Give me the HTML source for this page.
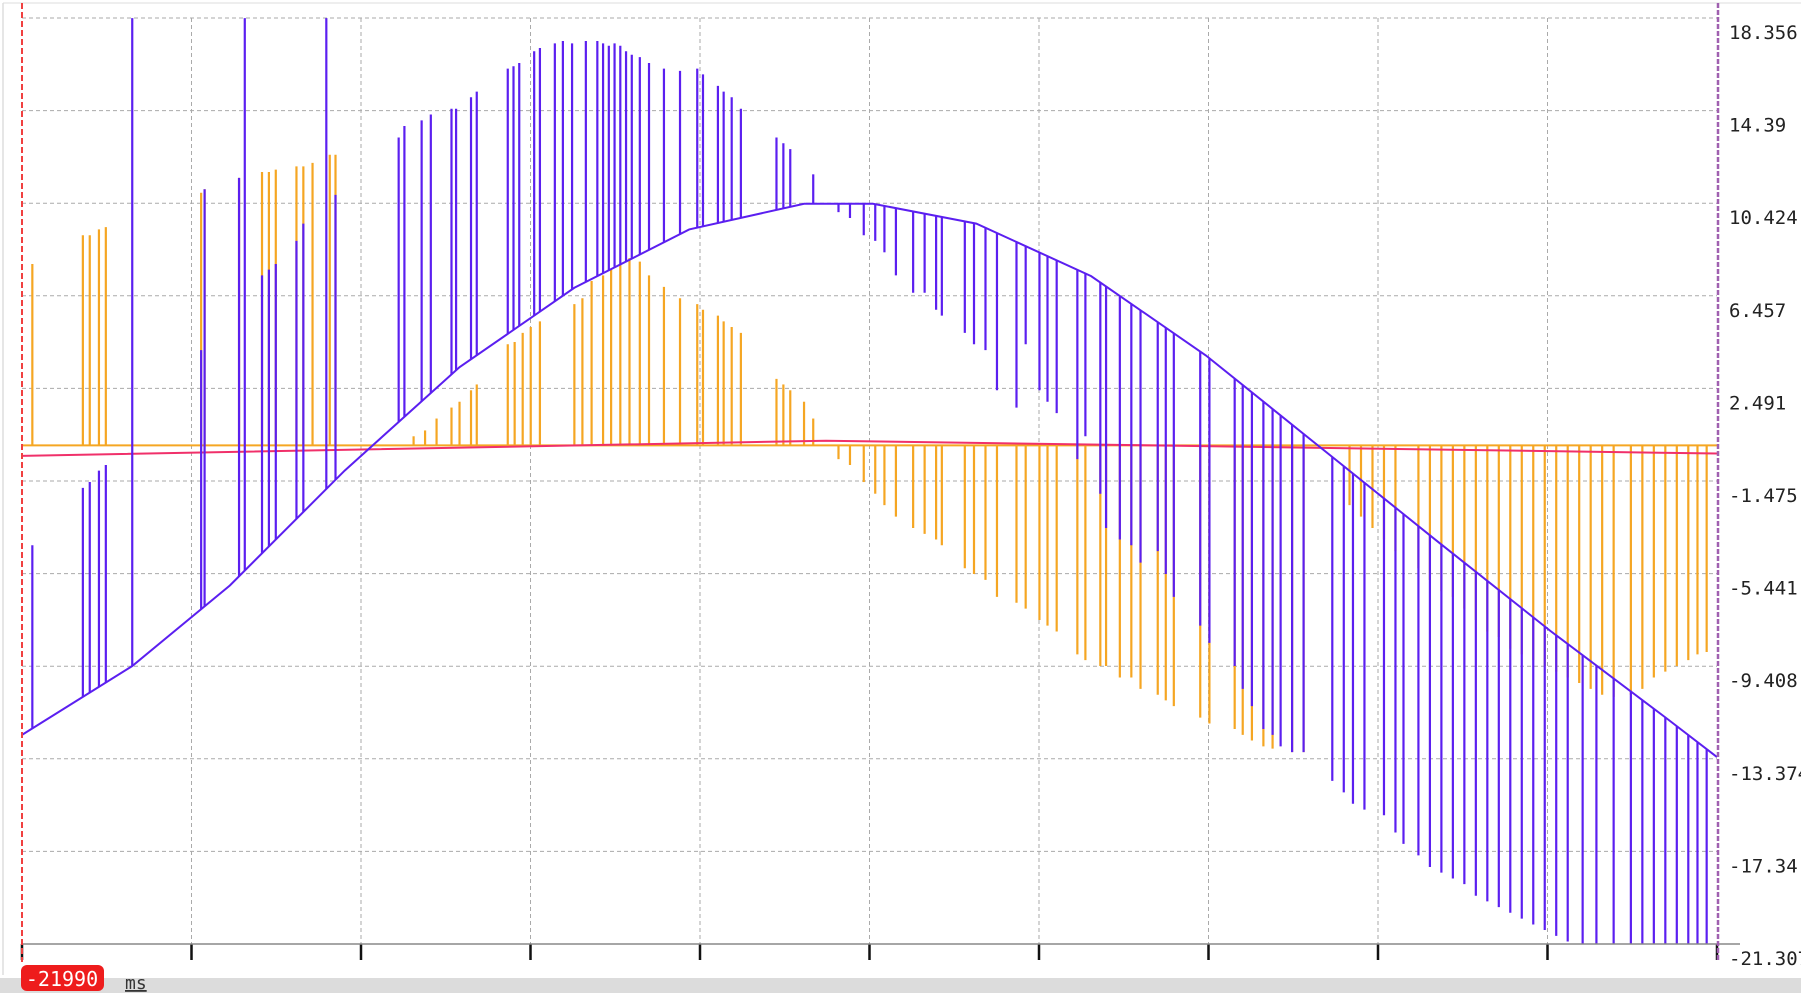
<!DOCTYPE html>
<html><head><meta charset="utf-8">
<style>
html,body{margin:0;padding:0;background:#fff;width:1801px;height:993px;overflow:hidden}
svg{display:block}
text{font-family:"DejaVu Sans Mono","Liberation Mono",monospace}
</style></head>
<body>
<svg id="chart" width="1801" height="993" xmlns="http://www.w3.org/2000/svg">
<rect x="0" y="0" width="1801" height="993" fill="#fff"/>
<line x1="3" y1="3" x2="3" y2="975" stroke="#ccc"/>
<line x1="3" y1="3" x2="1801" y2="3" stroke="#ddd"/>
<rect x="0" y="978" width="1801" height="15" fill="#dcdcdc"/>
<g id="grid"></g>
<g id="series"></g>
<g id="axes"></g>
<rect x="21" y="965" width="83" height="26" rx="6" fill="#ee1c1c"/>
<text x="62" y="986" font-size="20" fill="#fff" text-anchor="middle" font-family="Liberation Sans,sans-serif">-21990</text>
<text x="125" y="989" font-size="18" fill="#333" text-decoration="underline">ms</text>
</svg>
<script>
const yTicks=["18.356","14.39","10.424","6.457","2.491","-1.475","-5.441","-9.408","-13.374","-17.34","-21.307"];
const baseX=[0,96,181,281,381,481,581,681,741,831,931,1031,1131,1231,1331,1431,1476];
const baseV=[-12.35,-9.4,-5.95,-1.03,3.4,6.8,9.3,10.4,10.4,9.55,7.3,3.9,-0.05,-4.0,-7.9,-11.6,-13.3];
const blueUpX=[9,53,59,67,73,96,156,159,189,194,209,215,221,239,245,265,273,328,333,348,356,374,378,391,396,423,428,433,446,451,464,471,479,491,501,506,511,516,521,526,531,538,546,559,573,588,593,606,611,618,626,657,663,669,689];
const blueUpV=[-4.23,-1.77,-1.52,-1.03,-0.79,18.35,4.13,11.02,11.51,18.35,7.33,7.58,7.82,8.81,9.55,18.35,10.78,13.24,13.73,13.97,14.22,14.47,14.47,14.96,15.2,16.19,16.29,16.43,16.93,17.07,17.27,17.37,17.27,17.37,17.37,17.27,17.17,17.27,17.17,16.93,16.78,16.68,16.43,16.19,16.09,16.19,15.94,15.45,15.2,14.96,14.47,13.24,12.99,12.74,11.66];
const blueDownX=[711,721,733,743,751,761,776,786,796,801,821,829,839,849,866,874,886,893,901,919,926,939,944,956,966,974,989,996,1003,1026,1034,1056,1063,1071,1081,1089,1096,1106,1116,1141,1151,1159,1169,1186,1196,1203,1216,1226,1236,1246,1256,1266,1276,1286,1296,1306,1316,1326,1336,1346,1359,1371,1386,1401,1411,1421,1431,1441,1451,1459,1467];
const blueDownV=[10.04,9.79,9.05,8.81,8.32,7.33,6.59,6.59,5.86,5.61,4.87,4.38,4.13,2.41,1.67,4.38,2.41,1.92,1.43,-0.54,0.44,-2.02,-3.49,-3.98,-4.23,-4.97,-4.48,-5.46,-6.44,-7.67,-8.41,-9.4,-10.38,-11.12,-12.1,-12.35,-12.84,-13.09,-13.09,-14.32,-14.81,-15.3,-15.55,-15.79,-16.53,-17.02,-17.51,-18.01,-18.25,-18.5,-18.74,-19.24,-19.48,-19.73,-19.97,-20.22,-20.47,-20.71,-20.96,-21.2,-21.3,-21.3,-21.3,-21.3,-21.3,-21.3,-21.3,-21.3,-21.3,-21.3,-21.3];
const orangeUpX=[9,53,59,67,73,156,159,189,209,215,221,239,245,253,268,273,341,351,361,374,381,391,396,423,429,436,443,451,481,488,496,506,513,521,529,538,546,559,573,588,593,606,611,618,626,657,663,669,681,689];
const orangeUpV=[7.82,9.05,9.05,9.3,9.4,10.87,11.02,11.51,11.76,11.76,11.86,12.0,12.0,12.15,12.5,12.5,0.44,0.69,1.2,1.67,1.92,2.41,2.66,4.38,4.48,4.87,5.12,5.36,6.1,6.35,7.09,7.33,7.58,7.82,8.07,7.92,7.33,6.84,6.35,6.1,5.86,5.61,5.36,5.12,4.87,2.9,2.66,2.41,1.92,1.2];
const orangeDownX=[711,721,733,743,751,761,776,786,796,801,821,829,839,849,866,874,886,893,901,919,926,939,944,956,966,974,989,996,1003,1026,1034,1056,1063,1071,1081,1089,1106,1116,1156,1166,1176,1186,1196,1216,1226,1236,1246,1256,1266,1276,1286,1296,1306,1316,1326,1336,1346,1356,1366,1376,1386,1401,1411,1421,1431,1441,1451,1459,1467];
const orangeDownV=[-0.54,-0.79,-1.52,-2.02,-2.51,-3.0,-3.49,-3.74,-3.98,-4.23,-5.21,-5.46,-5.71,-6.44,-6.69,-6.94,-7.43,-7.67,-7.92,-8.9,-9.15,-9.4,-9.4,-9.89,-9.89,-10.38,-10.63,-10.87,-11.12,-11.61,-11.86,-12.1,-12.35,-12.59,-12.84,-12.94,-13.09,-13.09,-2.51,-3.0,-3.49,-3.98,-4.48,-5.21,-5.71,-6.2,-6.44,-6.94,-7.43,-7.92,-8.16,-8.66,-8.9,-9.15,-9.4,-9.64,-9.89,-10.13,-10.38,-10.63,-10.72,-10.63,-10.38,-9.89,-9.64,-9.4,-9.15,-8.9,-8.8];
const orangeBase=0.05;
const redX=[0,700,1476];
const redV=[-0.4,0.25,-0.3];

const NS="http://www.w3.org/2000/svg";
const X0=22,X1=1717,Y0=18,Y1=944,VMAX=18.356,VMIN=-21.307,XMAX=1476;
function sx(x){return X0+x*(X1-X0)/XMAX;}
function sy(v){return Y0+(VMAX-v)/(VMAX-VMIN)*(Y1-Y0);}
function baseAt(x){for(let i=0;i<baseX.length-1;i++){if(x<=baseX[i+1]){const t=(x-baseX[i])/(baseX[i+1]-baseX[i]);return baseV[i]+t*(baseV[i+1]-baseV[i]);}}return baseV[baseV.length-1];}
function mk(tag,attrs,parent){const e=document.createElementNS(NS,tag);for(const k in attrs)e.setAttribute(k,attrs[k]);parent.appendChild(e);return e;}
const grid=document.getElementById('grid'),series=document.getElementById('series'),axes=document.getElementById('axes');
for(let i=0;i<yTicks.length;i++){const y=Y0+i*(Y1-Y0)/(yTicks.length-1);
 if(i<yTicks.length-1){const l=mk('line',{x1:X0,x2:X1,y1:y,y2:y,stroke:'#aaa','stroke-dasharray':'4,3'},grid);
 
 }
 const t=mk('text',{x:1729,y:y+21,'font-size':19,fill:'#222'},axes);t.textContent=yTicks[i];
 
 }
for(let i=1;i<10;i++){const x=X0+i*(X1-X0)/10;
 const l=mk('line',{x1:x,x2:x,y1:Y0,y2:Y1,stroke:'#aaa','stroke-dasharray':'4,3'},grid);
 
 }
for(let i=0;i<=10;i++){const x=X0+i*(X1-X0)/10;
 const tk=mk('line',{x1:x,x2:x,y1:Y1,y2:960,stroke:'#111','stroke-width':2.5},axes);
 
 }
const xa=mk('line',{x1:X0,x2:1740,y1:Y1,y2:Y1,stroke:'#888','stroke-width':1.5},axes);


const lc=mk('line',{x1:X0,x2:X0,y1:3,y2:962,stroke:'#f04040','stroke-width':2,'stroke-dasharray':'6,3'},axes);


const rc=mk('line',{x1:1718,x2:1718,y1:3,y2:962,stroke:'#a060b0','stroke-width':2.5,'stroke-dasharray':'5,2'},axes);


// orange baseline
const ob=mk('line',{x1:sx(0),x2:sx(XMAX),y1:sy(orangeBase),y2:sy(orangeBase),stroke:'#f5a623','stroke-width':2},series);


function spikes(xs,vs,from,color,name){for(let i=0;i<xs.length;i++){const b=from(xs[i]);const v=Math.max(vs[i],VMIN);
 const l=mk('line',{x1:sx(xs[i]),x2:sx(xs[i]),y1:sy(b),y2:sy(v),stroke:color,'stroke-width':2.2},series);
 
 }}
spikes(orangeUpX,orangeUpV,()=>orangeBase,'#f5a623','orange-spike');
spikes(orangeDownX,orangeDownV,()=>orangeBase,'#f5a623','orange-spike');
// red line
let rp='';for(let i=0;i<redX.length;i++)rp+=(i?'L':'M')+sx(redX[i])+','+sy(redV[i]);
const rl=mk('path',{d:rp,fill:'none',stroke:'#f0306a','stroke-width':2},series);


// blue base
let bp='';for(let i=0;i<baseX.length;i++)bp+=(i?'L':'M')+sx(baseX[i])+','+sy(baseV[i]);
const bl=mk('path',{d:bp,fill:'none',stroke:'#5b1ff0','stroke-width':2},series);


spikes(blueUpX,blueUpV,baseAt,'#5b1ff0','blue-spike');
spikes(blueDownX,blueDownV,baseAt,'#5b1ff0','blue-spike');
</script>
</body></html>
